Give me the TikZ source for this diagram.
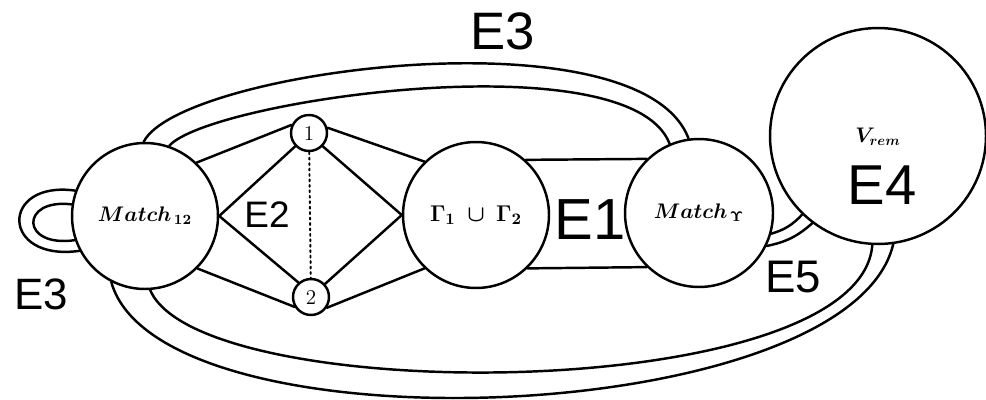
\RequirePackage{fix-cm}
\documentclass[tikz,border=0pt]{standalone}
\usepackage[no-math]{fontspec}
\usepackage{bm}
\newfontfamily\handfont{Liberation Sans}
\begin{document}
\begin{tikzpicture}[
  x=0.02cm, y=-0.02cm,
  line width=1.4pt, line join=round, line cap=round,
  bignode/.style={draw, circle, inner sep=0pt, minimum size=2.92cm, font=\fontsize{12}{14}\selectfont},
  smallnode/.style={draw, circle, inner sep=0pt, minimum size=0.72cm, font=\large},
  elabel/.style={font=\handfont\fontsize{#1}{#1}\selectfont, inner sep=0pt},
  tie/.style={dotted, line width=1.1pt}
]
  \useasboundingbox (0,0) rectangle (986,399);

  \node[bignode] (m12) at (145,216) {$\bm{Match}_{\,\mathbf{12}}$};
  \node[bignode, font=\fontsize{13}{15}\selectfont] (gam) at (476,215) {$\bm{\Gamma}_{\mathbf{1}}\;\bm{\cup}\;\bm{\Gamma}_{\mathbf{2}}$};
  \node[bignode, minimum size=2.96cm] (my) at (699,213) {$\bm{Match}_{\,\mathbf{\Upsilon}}$};
  \node[bignode, minimum size=4.32cm] (vr) at (878,136) {};
  \node[font=\fontsize{12}{14}\selectfont] (vrlab) at (878,137) {$\bm{V}_{\bm{rem}}$};
  \node[smallnode] (n1) at (309,133) {1};
  \node[smallnode] (n2) at (311,297) {2};

  \draw (m12.46) -- (n1.155);
  \draw (m12.east) -- (n1.224);
  \draw (m12.east) -- (n2.131);
  \draw (m12.-45) -- (n2.211);
  \draw (n1.16) -- (gam.134);
  \draw (n1.-44) -- (gam.west);
  \draw (n2.43) -- (gam.west);
  \draw (n2.-34) -- (gam.226);
  \draw[tie] (n1) -- (n2);

  \draw (gam.48) -- (my.134);
  \draw (gam.-46) -- (my.-134);

  \draw (my.-16) to[bend right=15] (vr.226);
  \draw (my.-26) to[bend right=15] (vr.233);

  \draw (m12.91) .. controls (180,70) and (640,10) .. (my.98);
  \draw (m12.71) .. controls (210,100) and (630,40) .. (my.113);
  \draw (m12.-117) .. controls (160,455) and (850,428) .. (vr.-82);
  \draw (m12.-86) .. controls (200,408) and (860,405) .. (vr.-93);

  \draw (m12.160) .. controls (0,180) and (0,262) .. (m12.208);
  \draw (m12.171) .. controls (20,198) and (20,248) .. (m12.199);

  \node[elabel=30] (e3top) at (503,31) {E3};
  \node[elabel=25] (e3bot) at (41,294) {E3};
  \node[elabel=21] (e2) at (267,215) {E2};
  \node[elabel=33] (e1) at (590,220) {E1};
  \node[elabel=32] (e4) at (882,185) {E4};
  \node[elabel=26] (e5) at (793,277) {E5};
\end{tikzpicture}
\end{document}
